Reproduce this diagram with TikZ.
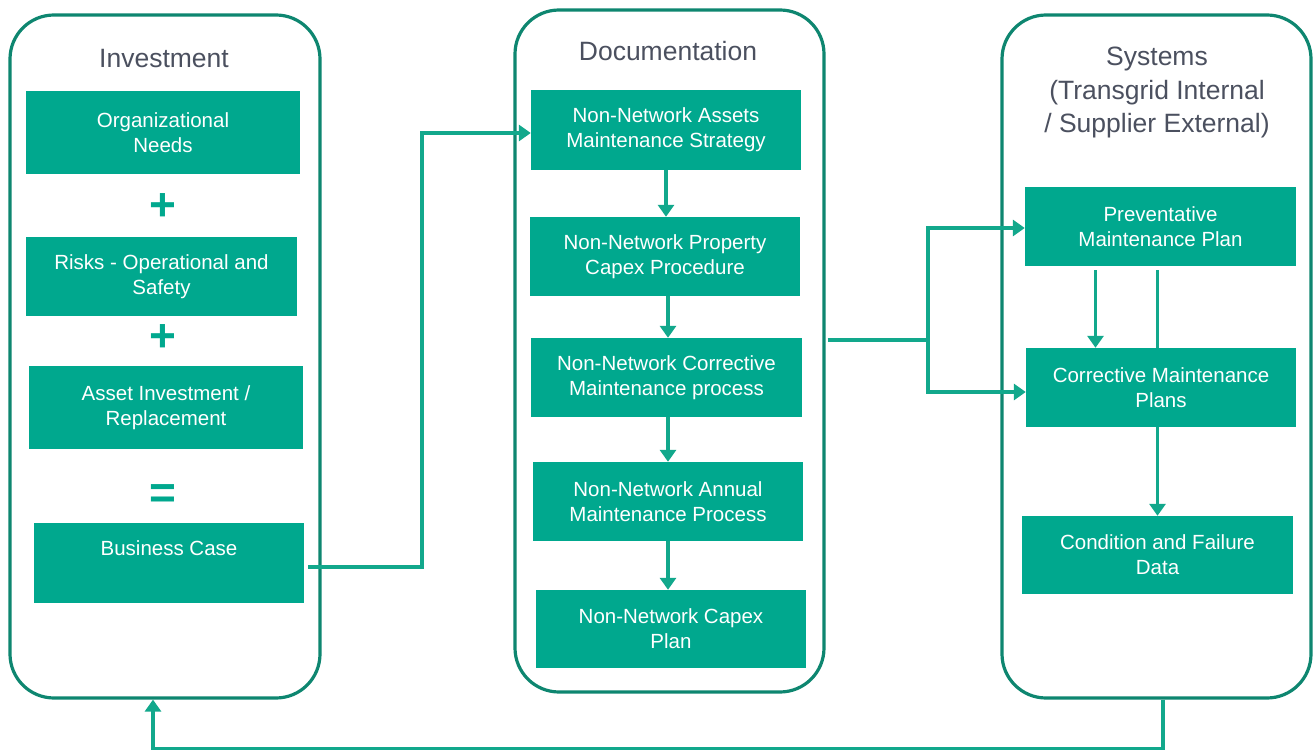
\documentclass[tikz,border=0pt]{standalone}
\usepackage{fontspec}
\setmainfont{Liberation Sans}
\usetikzlibrary{arrows.meta}
\definecolor{boxc}{RGB}{0,168,142}
\definecolor{linec}{RGB}{18,168,140}
\definecolor{framec}{RGB}{14,134,112}
\definecolor{titlec}{RGB}{75,80,95}
\tikzset{
  box/.style={fill=boxc, draw=none, text=white, align=center, inner sep=0pt,
    font=\fontsize{20.5}{25}\selectfont},
  frame/.style={draw=framec, line width=3.2pt, rounded corners=44pt, fill=white, inner sep=0pt},
  title/.style={text=titlec, align=center, font=\fontsize{26.5}{33.5}\selectfont},
  sign/.style={text=boxc, font=\fontsize{46}{46}\bfseries\selectfont, inner sep=0pt},
  conn/.style={draw=linec, line width=3.6pt},
  arr/.style={conn, -{Triangle[length=12pt,width=16pt]}},
}
\begin{document}
\begin{tikzpicture}[x=1pt,y=-1pt]
\useasboundingbox (0,0) rectangle (1314,751);
% containers
\node[frame, minimum width=310pt, minimum height=683pt] (cl) at (165,356.5) {};
\node[frame, minimum width=309pt, minimum height=682pt] (cmid) at (669.5,351) {};
\node[frame, minimum width=309pt, minimum height=683pt] (cr) at (1156.5,356.5) {};
% titles
\node[title] (tl) at (164,59) {Investment};
\node[title] (tm) at (668,51) {Documentation};
\node[title] (tr) at (1157,93) {Systems\\(Transgrid Internal\\/ Supplier External)};
% left column
\node[box, minimum width=274pt, minimum height=83pt] (on) at (163,132.5) {Organizational\\Needs};
\node[sign] (p1) at (163,207) {+};
\node[box, minimum width=271pt, minimum height=79pt] (risk) at (161.5,276.5) {Risks - Operational and\\Safety};
\node[sign] (p2) at (163,338) {+};
\node[box, minimum width=274pt, minimum height=83pt] (asset) at (166,407.5) {Asset Investment /\\Replacement};
\node[sign] (eq) at (163,497) {=};
\node[box, minimum width=270pt, minimum height=80pt] (bc) at (169,563) {Business Case\\[4pt]\mbox{}};
% middle column
\node[box, minimum width=270pt, minimum height=80pt] (m1) at (666,130) {Non-Network Assets\\Maintenance Strategy};
\node[box, minimum width=270pt, minimum height=79pt] (m2) at (665,256.5) {Non-Network Property\\Capex Procedure};
\node[box, minimum width=271pt, minimum height=79pt] (m3) at (666.5,377.5) {Non-Network Corrective\\Maintenance process};
\node[box, minimum width=270pt, minimum height=79pt] (m4) at (668,501.5) {Non-Network Annual\\Maintenance Process};
\node[box, minimum width=270pt, minimum height=78pt] (m5) at (671,629) {Non-Network Capex\\Plan};
% right column
\node[box, minimum width=271pt, minimum height=79pt] (pm) at (1160.5,226.5) {Preventative\\Maintenance Plan};
\node[box, minimum width=270pt, minimum height=79pt] (cm) at (1161,387.5) {Corrective Maintenance\\Plans};
\node[box, minimum width=271pt, minimum height=78pt] (cf) at (1157.5,555) {Condition and Failure\\Data};
% connectors
\draw[arr] ([xshift=4pt,yshift=-4pt]bc.east) -- (422,567) |- ([yshift=-3pt]m1.west);
\draw[arr] (m1.south) -- (m1.south |- m2.north);
\draw[arr] ([xshift=3pt]m2.south) -- ([xshift=3pt]m2.south |- m3.north);
\draw[arr] ([xshift=1.5pt]m3.south) -- ([xshift=1.5pt]m3.south |- m4.north);
\draw[arr] (m4.south) -- (m4.south |- m5.north);
\coordinate (split) at (928,340);
\draw[conn] ([xshift=2pt]cmid.east |- split) -- (split);
\draw[arr] (split) |- ([yshift=-1.5pt]pm.west);
\draw[arr] (split) |- ([yshift=-4.5pt]cm.west);
\draw[arr] ([xshift=-65pt,yshift=-4pt]pm.south) -- ([xshift=-65pt]pm.south |- cm.north);
\draw[conn] ([xshift=-3pt,yshift=-4pt]pm.south) -- ([xshift=-3pt]pm.south |- cm.north);
\draw[arr] (cf.north |- cm.south) -- (cf.north);
\draw[arr] ([xshift=6.5pt]cr.south) -- ++(0,49) -| ([xshift=-12pt]cl.south);
\end{tikzpicture}
\end{document}
